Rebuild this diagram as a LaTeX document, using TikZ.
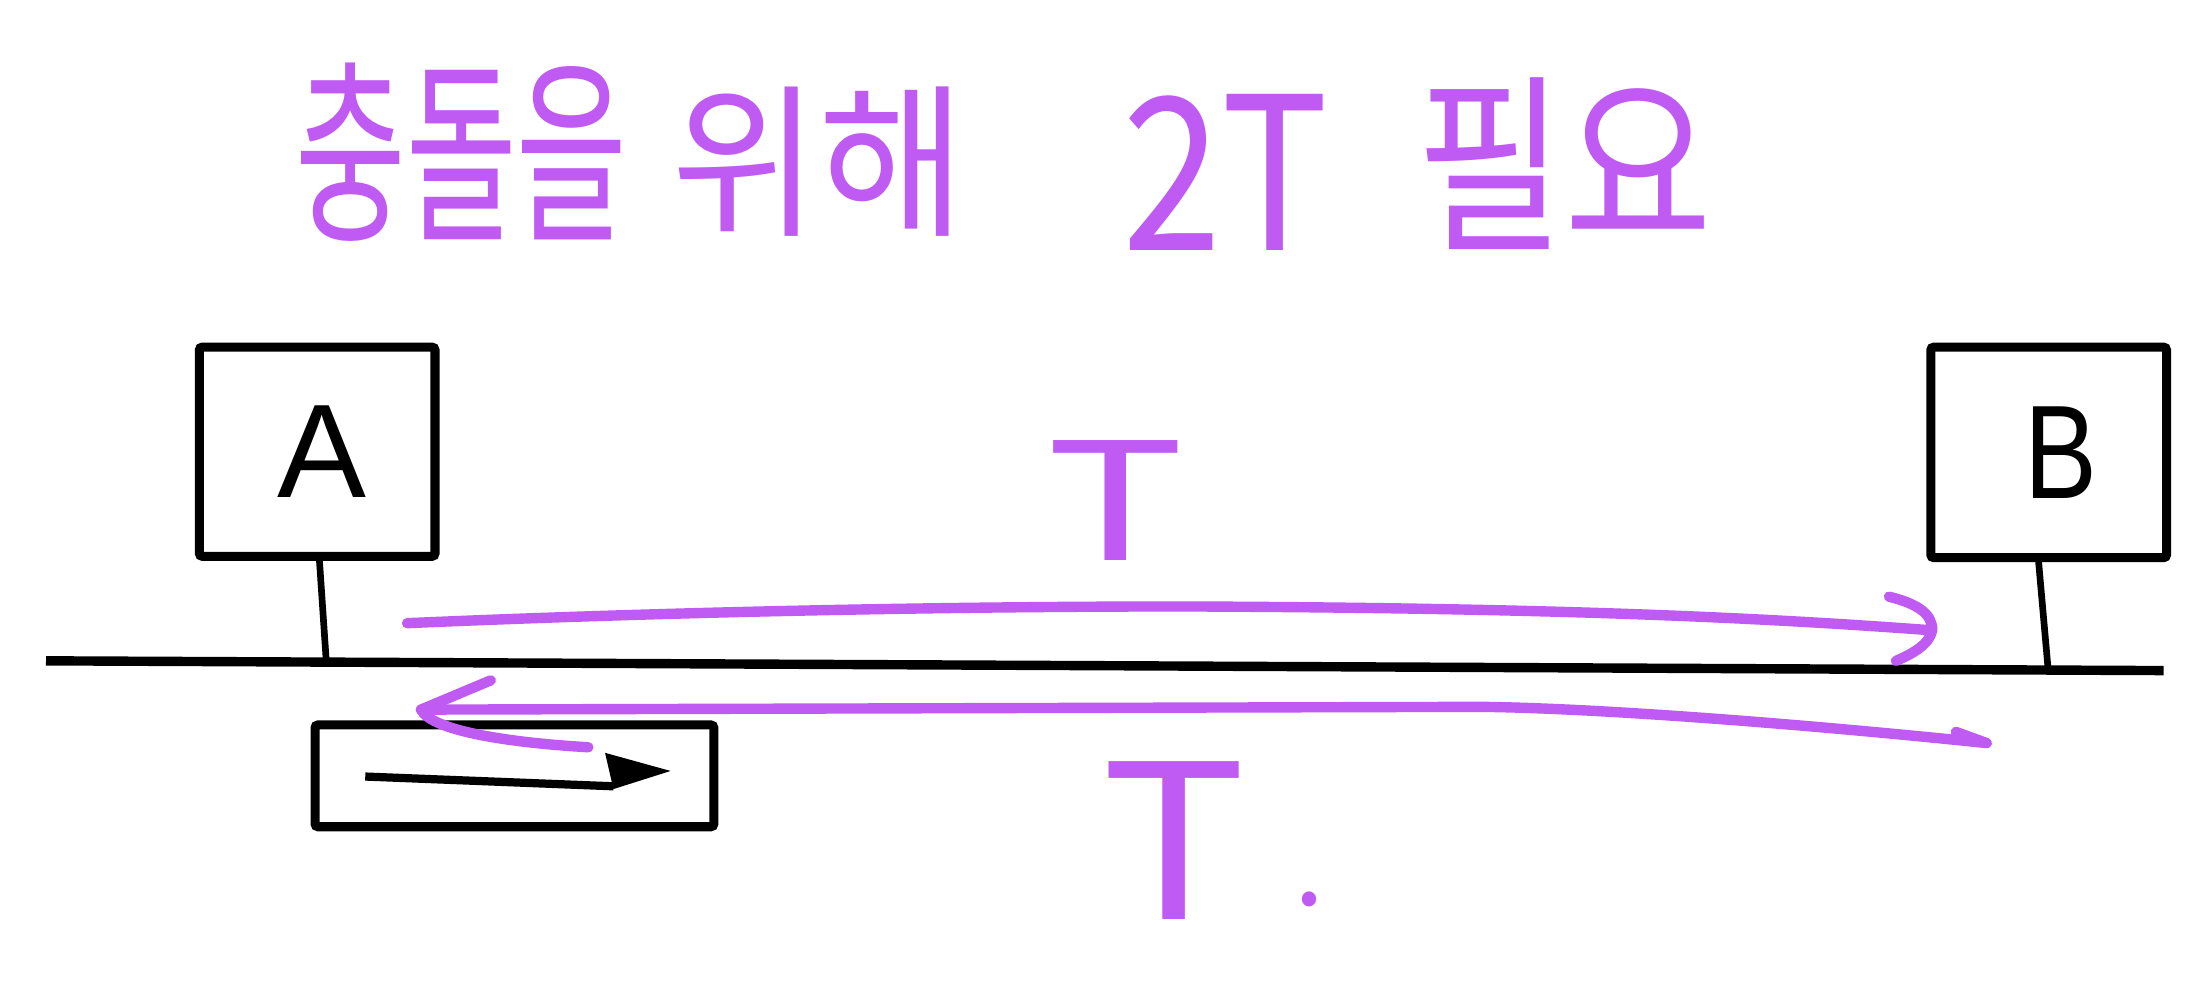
\documentclass[tikz,border=0pt]{standalone}
\usepackage{fontspec}
\usepackage{graphicx}
\setmainfont{Liberation Sans}
\newfontfamily\kor{Noto Sans CJK KR}
\definecolor{purp}{HTML}{BF5AF2}
\begin{document}
\begin{tikzpicture}[x=0.025cm,y=-0.025cm,
  box/.style={draw=black,line width=4.6pt,rounded corners=1.5pt,inner sep=0pt,font=\fontsize{68}{78}\selectfont},
  bus/.style={draw=black,line width=4.8pt},
  stem/.style={draw=black,line width=3.4pt},
  pen/.style={draw=purp,line width=5.3pt,line cap=round,line join=round},
  kor/.style={text=purp,inner sep=0pt,font=\kor}]
\useasboundingbox (0,0) rectangle (1568,717);
\fill[white] (0,0) rectangle (1568,717);
% title
\node[kor] (w1) at (331,109) {\resizebox*{5.95cm}{3.2cm}{충돌을}};
\node[kor] (w2) at (587,116) {\resizebox*{5.28cm}{2.68cm}{위해}};
\node[kor] (w3) at (879,124) {\resizebox*{3.7cm}{2.8cm}{2T}};
\node[kor] (w4) at (1122,117) {\resizebox*{5.3cm}{3.08cm}{필요}};
% stations
\node[box,minimum width=4.225cm,minimum height=3.75cm] (A) at (227.5,324) {\raisebox{-0.35cm}{\hspace{0.175cm}A}};
\node[box,minimum width=4.225cm,minimum height=3.775cm] (B) at (1469.5,324.5) {\raisebox{-0.34cm}{\hspace{0.425cm}\scalebox{0.82}[1]{B}}};
% bus
\coordinate (busL) at (33,474);
\coordinate (busR) at (1552,481);
\draw[bus] (busL) -- (busR);
\coordinate (aTop) at (229,400);
\coordinate (aBot) at (234,474);
\coordinate (bTop) at (1462,400);
\coordinate (bBot) at (1469,479);
\draw[stem] (aTop) -- (aBot);
\draw[stem] (bTop) -- (bBot);
% small frame box
\node[draw=black,line width=4.6pt,rounded corners=1.5pt,minimum width=7.15cm,minimum height=1.825cm] (F) at (369,556.5) {};
\coordinate (s1) at (262,557);
\coordinate (s2) at (440,564);
\draw[black,line width=4.2pt] (s1) -- (s2);
\fill[black] (434,540) -- (481,553) -- (440,566) -- cycle;
% top arrow
\coordinate (t1) at (292,447);
\coordinate (t2) at (1384,452);
\draw[pen] (t1) .. controls (500,438) and (700,435) .. (850,435) .. controls (1100,436) and (1250,442) .. (t2);
\draw[pen] (1355,428) .. controls (1375,433) and (1386,440) .. (1386,452) .. controls (1384,462) and (1372,469) .. (1360,474);
\node[kor] (T1) at (800,359) {\resizebox*{2.48cm}{2.15cm}{T}};
% bottom arrow
\coordinate (u1) at (1425,533);
\coordinate (u2) at (302,509);
\draw[pen] (u1) .. controls (1300,520) and (1150,508) .. (1062,507) -- (u2);
\draw[pen] (1403,525) -- (u1);
\draw[pen] (352,488) -- (u2) .. controls (310,525) and (370,533) .. (422,536);
\node[kor,anchor=south west] (T2) at (790,660) {\resizebox*{2.6cm}{2.83cm}{T}\hspace{0.85cm}\raisebox{0.25cm}{\fontsize{55}{60}\selectfont .}};
\end{tikzpicture}
\end{document}
